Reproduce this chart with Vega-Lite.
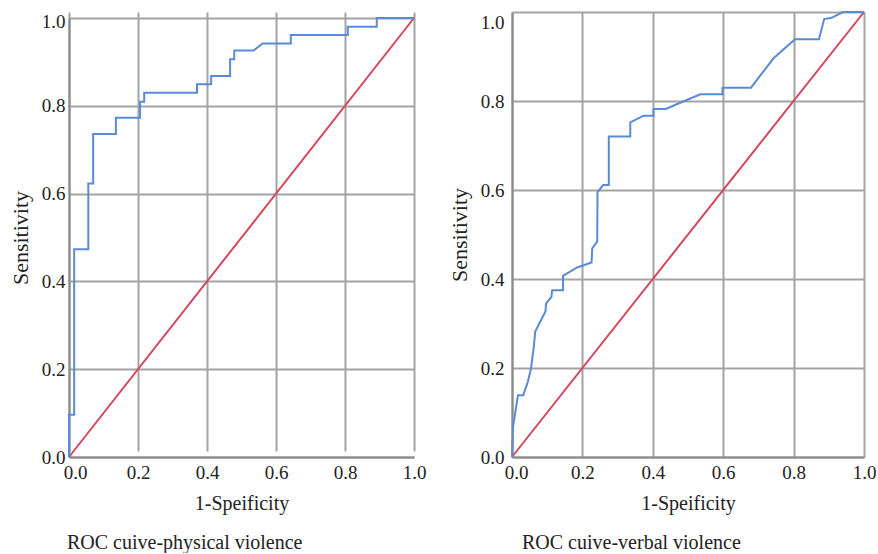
{
  "$schema": "https://vega.github.io/schema/vega-lite/v6.json",
  "background": "white",
  "padding": {"left": 9, "top": 8, "right": 0, "bottom": 0},
  "spacing": 22,
  "config": {
    "view": {"stroke": null},
    "font": "Liberation Serif",
    "axis": {
      "grid": true,
      "gridColor": "#a3a3a3",
      "gridWidth": 2,
      "domainColor": "#8a8a8a",
      "domainWidth": 2,
      "ticks": false,
      "labelFont": "Liberation Serif",
      "labelFontSize": 19,
      "labelColor": "#222222",
      "titleFont": "Liberation Serif",
      "titleFontWeight": "normal",
      "titleColor": "#222222"
    },
    "title": {"font": "Liberation Serif", "fontSize": 20, "fontWeight": "normal", "color": "#222222"}
  },
  "datasets": {
    "diag": [{"fpr": 0, "tpr": 0}, {"fpr": 1, "tpr": 1}],
    "physical": [
      {"i": 0, "fpr": 0, "tpr": 0},
      {"i": 1, "fpr": 0, "tpr": 0.096},
      {"i": 2, "fpr": 0.015, "tpr": 0.096},
      {"i": 3, "fpr": 0.015, "tpr": 0.473},
      {"i": 4, "fpr": 0.056, "tpr": 0.473},
      {"i": 5, "fpr": 0.056, "tpr": 0.623},
      {"i": 6, "fpr": 0.07, "tpr": 0.623},
      {"i": 7, "fpr": 0.07, "tpr": 0.736},
      {"i": 8, "fpr": 0.136, "tpr": 0.736},
      {"i": 9, "fpr": 0.136, "tpr": 0.773},
      {"i": 10, "fpr": 0.206, "tpr": 0.773},
      {"i": 11, "fpr": 0.206, "tpr": 0.809},
      {"i": 12, "fpr": 0.218, "tpr": 0.809},
      {"i": 13, "fpr": 0.218, "tpr": 0.83},
      {"i": 14, "fpr": 0.371, "tpr": 0.83},
      {"i": 15, "fpr": 0.371, "tpr": 0.849},
      {"i": 16, "fpr": 0.412, "tpr": 0.849},
      {"i": 17, "fpr": 0.412, "tpr": 0.868},
      {"i": 18, "fpr": 0.467, "tpr": 0.868},
      {"i": 19, "fpr": 0.467, "tpr": 0.906},
      {"i": 20, "fpr": 0.479, "tpr": 0.906},
      {"i": 21, "fpr": 0.479, "tpr": 0.926},
      {"i": 22, "fpr": 0.535, "tpr": 0.926},
      {"i": 23, "fpr": 0.561, "tpr": 0.942},
      {"i": 24, "fpr": 0.643, "tpr": 0.942},
      {"i": 25, "fpr": 0.643, "tpr": 0.961},
      {"i": 26, "fpr": 0.808, "tpr": 0.961},
      {"i": 27, "fpr": 0.808, "tpr": 0.98},
      {"i": 28, "fpr": 0.892, "tpr": 0.98},
      {"i": 29, "fpr": 0.892, "tpr": 1.0},
      {"i": 30, "fpr": 1.0, "tpr": 1.0}
    ],
    "verbal": [
      {"i": 0, "fpr": 0, "tpr": 0},
      {"i": 1, "fpr": 0.003, "tpr": 0.068},
      {"i": 2, "fpr": 0.017, "tpr": 0.139},
      {"i": 3, "fpr": 0.032, "tpr": 0.139},
      {"i": 4, "fpr": 0.045, "tpr": 0.169},
      {"i": 5, "fpr": 0.054, "tpr": 0.199},
      {"i": 6, "fpr": 0.062, "tpr": 0.248},
      {"i": 7, "fpr": 0.066, "tpr": 0.282},
      {"i": 8, "fpr": 0.095, "tpr": 0.327},
      {"i": 9, "fpr": 0.097, "tpr": 0.345},
      {"i": 10, "fpr": 0.112, "tpr": 0.36},
      {"i": 11, "fpr": 0.114, "tpr": 0.375},
      {"i": 12, "fpr": 0.145, "tpr": 0.375},
      {"i": 13, "fpr": 0.145, "tpr": 0.407},
      {"i": 14, "fpr": 0.185, "tpr": 0.426},
      {"i": 15, "fpr": 0.226, "tpr": 0.437},
      {"i": 16, "fpr": 0.228, "tpr": 0.469},
      {"i": 17, "fpr": 0.242, "tpr": 0.484},
      {"i": 18, "fpr": 0.243, "tpr": 0.595},
      {"i": 19, "fpr": 0.259, "tpr": 0.611},
      {"i": 20, "fpr": 0.275, "tpr": 0.611},
      {"i": 21, "fpr": 0.275, "tpr": 0.72},
      {"i": 22, "fpr": 0.336, "tpr": 0.72},
      {"i": 23, "fpr": 0.336, "tpr": 0.752},
      {"i": 24, "fpr": 0.374, "tpr": 0.767},
      {"i": 25, "fpr": 0.402, "tpr": 0.767},
      {"i": 26, "fpr": 0.402, "tpr": 0.782},
      {"i": 27, "fpr": 0.437, "tpr": 0.782},
      {"i": 28, "fpr": 0.478, "tpr": 0.796},
      {"i": 29, "fpr": 0.535, "tpr": 0.815},
      {"i": 30, "fpr": 0.598, "tpr": 0.815},
      {"i": 31, "fpr": 0.598, "tpr": 0.83},
      {"i": 32, "fpr": 0.679, "tpr": 0.83},
      {"i": 33, "fpr": 0.743, "tpr": 0.896},
      {"i": 34, "fpr": 0.804, "tpr": 0.939},
      {"i": 35, "fpr": 0.872, "tpr": 0.939},
      {"i": 36, "fpr": 0.887, "tpr": 0.984},
      {"i": 37, "fpr": 0.908, "tpr": 0.987},
      {"i": 38, "fpr": 0.94, "tpr": 1.0},
      {"i": 39, "fpr": 1.0, "tpr": 1.0}
    ]
  },
  "hconcat": [
    {
      "width": 345,
      "height": 445,
      "title": {"text": "ROC cuive-physical violence", "orient": "bottom", "anchor": "start", "frame": "group", "offset": 20, "dx": -2},
      "layer": [
        {
          "data": {"name": "diag"},
          "mark": {"type": "line", "color": "#d4475e", "strokeWidth": 2},
          "encoding": {
            "x": {"field": "fpr", "type": "quantitative", "scale": {"domain": [0, 1], "nice": false},
              "axis": {"title": "1-Speificity", "titleFontSize": 20, "values": [0, 0.2, 0.4, 0.6, 0.8, 1], "format": ".1f", "labelFlush": false, "labelPadding": 6, "titlePadding": 11,
                "labelOffset": {"condition": {"test": "datum.value == 0", "value": 6}, "value": 0}}},
            "y": {"field": "tpr", "type": "quantitative", "scale": {"domain": [0, 1], "nice": false, "range": [445, 6]},
              "axis": {"title": "Sensitivity", "titleFontSize": 22, "values": [0, 0.2, 0.4, 0.6, 0.8, 1], "format": ".1f", "labelPadding": 4, "titlePadding": 9,
                "labelOffset": {"condition": {"test": "datum.value == 1", "value": 3}, "value": 0}}}
          }
        },
        {
          "data": {"name": "physical"},
          "mark": {"type": "line", "color": "#5b8ad6", "strokeWidth": 2},
          "encoding": {
            "x": {"field": "fpr", "type": "quantitative"},
            "y": {"field": "tpr", "type": "quantitative"},
            "order": {"field": "i", "type": "quantitative"}
          }
        }
      ]
    },
    {
      "width": 352,
      "height": 445,
      "title": {"text": "ROC cuive-verbal violence", "orient": "bottom", "anchor": "start", "frame": "group", "offset": 20, "dx": 10},
      "layer": [
        {
          "data": {"name": "diag"},
          "mark": {"type": "line", "color": "#d4475e", "strokeWidth": 2},
          "encoding": {
            "x": {"field": "fpr", "type": "quantitative", "scale": {"domain": [0, 1], "nice": false},
              "axis": {"title": "1-Speificity", "titleFontSize": 20, "values": [0, 0.2, 0.4, 0.6, 0.8, 1], "format": ".1f", "labelFlush": false, "labelPadding": 6, "titlePadding": 11,
                "labelOffset": {"condition": {"test": "datum.value == 0", "value": 4}, "value": 0}}},
            "y": {"field": "tpr", "type": "quantitative", "scale": {"domain": [0, 1], "nice": false},
              "axis": {"title": "Sensitivity", "titleFontSize": 22, "values": [0, 0.2, 0.4, 0.6, 0.8, 1], "format": ".1f", "labelPadding": 8, "titlePadding": 9,
                "labelBaseline": {"condition": {"test": "datum.value == 1", "value": "top"}, "value": "middle"},
                "labelOffset": {"condition": {"test": "datum.value == 1", "value": 1}, "value": 0}}}
          }
        },
        {
          "data": {"name": "verbal"},
          "mark": {"type": "line", "color": "#5b8ad6", "strokeWidth": 2},
          "encoding": {
            "x": {"field": "fpr", "type": "quantitative"},
            "y": {"field": "tpr", "type": "quantitative"},
            "order": {"field": "i", "type": "quantitative"}
          }
        }
      ]
    }
  ]
}
